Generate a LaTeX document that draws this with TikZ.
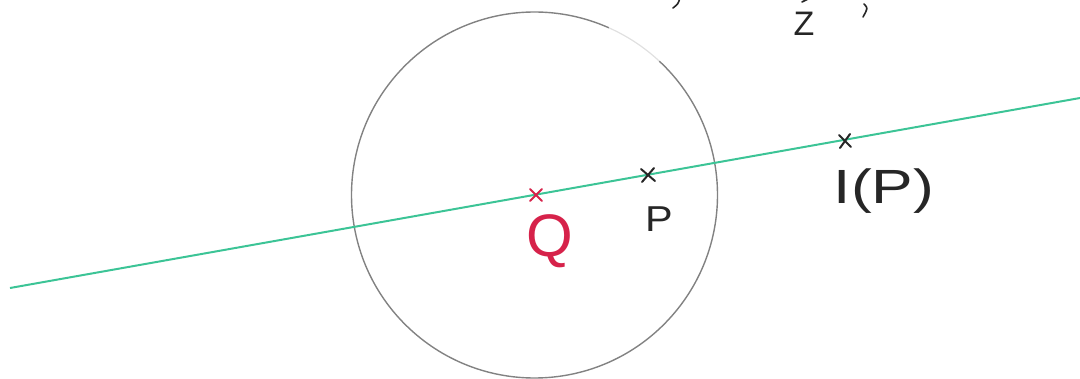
\documentclass[tikz,border=0pt]{standalone}
\usepackage{fontspec}
\setmainfont{Liberation Sans}
\definecolor{lgreen}{RGB}{60,196,150}
\definecolor{qred}{RGB}{214,34,74}
\definecolor{cgrey}{RGB}{130,130,130}
\begin{document}
\begin{tikzpicture}[x=1pt,y=-1pt,
  crossmark/.style={line width=2pt,line cap=round},
  lab/.style={inner sep=0pt}]
\useasboundingbox (0,0) rectangle (1080,378);
% circle
\coordinate (O) at (534.5,195);
\draw[cgrey,line width=1.4pt] (O) ++(-47:183) arc[start angle=-47,end angle=294,radius=183];
\draw[cgrey!25,line width=1.2pt] (O) ++(-66:183) arc[start angle=-66,end angle=-47,radius=183];
% green line
\coordinate (L) at (10,288);
\coordinate (R) at (1080,98);
\draw[lgreen,line width=2pt] (L) -- (R);
% points
\coordinate (Q) at (536,195);
\coordinate (P) at (648,175);
\coordinate (IP) at (845,141);
\draw[crossmark,qred] (Q) ++(-6,-6) -- ++(12,12) (Q) ++(-6,6) -- ++(12,-12);
\draw[crossmark,black!85] (P) ++(-7,-6) -- ++(14,12) (P) ++(-6,7) -- ++(12,-14);
\draw[crossmark,black!85] (IP) ++(-6,-6) -- ++(12,12) (IP) ++(-5,7) -- ++(10,-14);
% labels
\node[lab,qred,font=\fontsize{60}{60}\selectfont] (lq) at (550,241) {Q};
\node[lab,black!85,font=\fontsize{36}{36}\selectfont,xscale=1.15] (lp) at (659,219) {P};
\node[lab,black!85,font=\fontsize{48}{48}\selectfont,xscale=1.3] (lip) at (884,191) {I(P)};
% cut-off top text fragments
\node[lab,black!85,font=\fontsize{34}{34}\selectfont] (z) at (804,24) {Z};
\draw[black!85,line width=1.6pt,line cap=round] (802,2) -- (810,-2);
\draw[black!85,line width=1.6pt,line cap=round] (864,4) .. controls (868,8) .. (863,17);
\draw[black!85,line width=1.6pt,line cap=round] (680,-2) .. controls (678,4) .. (673,8);
\end{tikzpicture}
\end{document}
